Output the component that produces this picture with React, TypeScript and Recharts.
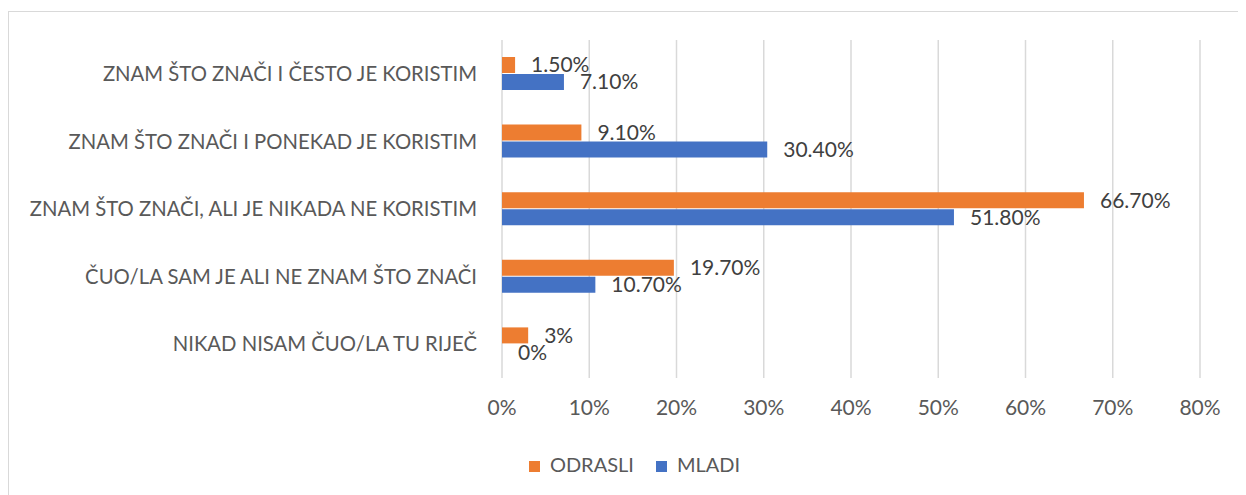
import React from 'react';
import {
  BarChart,
  Bar,
  XAxis,
  YAxis,
  CartesianGrid,
  Legend,
  LabelList,
} from 'recharts';

const categories = [
  'ZNAM ŠTO ZNAČI I ČESTO JE KORISTIM',
  'ZNAM ŠTO ZNAČI I PONEKAD JE KORISTIM',
  'ZNAM ŠTO ZNAČI, ALI JE NIKADA NE KORISTIM',
  'ČUO/LA SAM JE ALI NE ZNAM ŠTO ZNAČI',
  'NIKAD NISAM ČUO/LA TU RIJEČ',
];
const odrasli = [1.5, 9.1, 66.7, 19.7, 3];
const mladi = [7.1, 30.4, 51.8, 10.7, 0];
const odrasliLabels = ['1.50%', '9.10%', '66.70%', '19.70%', '3%'];
const mladiLabels = ['7.10%', '30.40%', '51.80%', '10.70%', '0%'];
const xTicks = [0, 10, 20, 30, 40, 50, 60, 70, 80];
const legendOrder = ['ODRASLI', 'MLADI'];

const data = categories.map((name, i) => ({
  name,
  odrasli: odrasli[i],
  mladi: mladi[i],
  odrasliLabel: odrasliLabels[i],
  mladiLabel: mladiLabels[i],
}));

const FONT = 'Lato, "Open Sans", sans-serif';
const tickText = { fill: '#595959', fontSize: 21, fontFamily: FONT };
const catText = { fill: '#595959', fontSize: 20.3, fontFamily: FONT };

export default function App() {
  return (
    <div style={{ position: 'relative', top: 3 }}>
      <div
        style={{
          width: 1238,
          height: 490,
          border: '1px solid #d9d9d9',
          boxSizing: 'border-box',
          background: '#fff',
        }}
      >
        <BarChart
          width={1236}
          height={480}
          data={data}
          layout="vertical"
          margin={{ top: 28, right: 45, bottom: 16, left: 0 }}
          barCategoryGap="26%"
          barGap={1}
        >
          <CartesianGrid horizontal={false} stroke="#d9d9d9" strokeWidth={1.5} />
          <XAxis
            type="number"
            domain={[0, 80]}
            ticks={xTicks}
            tickFormatter={(v: number) => `${v}%`}
            axisLine={false}
            tickLine={false}
            tickSize={0}
            tickMargin={22}
            height={74}
            tick={tickText}
            interval={0}
          />
          <YAxis
            type="category"
            dataKey="name"
            width={493}
            axisLine={false}
            tickLine={false}
            tickSize={0}
            tickMargin={25}
            tick={catText}
            interval={0}
          />
          <Legend
            verticalAlign="bottom"
            align="center"
            iconType="square"
            iconSize={11}
            itemSorter={(item: any) => legendOrder.indexOf(item.value)}
            wrapperStyle={{ fontFamily: FONT, fontSize: 20, left: 41 }}
            formatter={(value: string) => (
              <span style={{ color: '#595959', marginLeft: 6, marginRight: 12 }}>{value}</span>
            )}
          />
          <Bar dataKey="odrasli" name="ODRASLI" fill="#ED7D31" barSize={16} isAnimationActive={false}>
            <LabelList
              dataKey="odrasliLabel"
              position="right"
              offset={16}
              fill="#404040"
              fontSize={21}
              fontFamily={FONT}
            />
          </Bar>
          <Bar
            dataKey="mladi"
            name="MLADI"
            fill="#4472C4"
            barSize={16}
            minPointSize={0.01}
            isAnimationActive={false}
          >
            <LabelList
              dataKey="mladiLabel"
              position="right"
              offset={16}
              fill="#404040"
              fontSize={21}
              fontFamily={FONT}
            />
          </Bar>
        </BarChart>
      </div>
    </div>
  );
}
